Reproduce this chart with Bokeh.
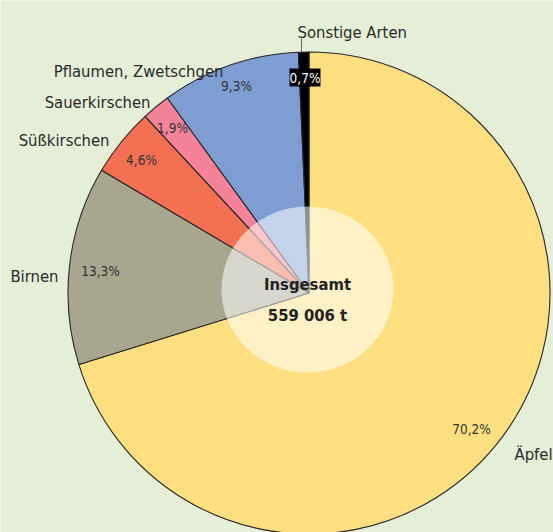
import numpy as np
from bokeh.plotting import figure
from bokeh.models import Range1d, ColumnDataSource
from bokeh.core.properties import value
from bokeh.embed import file_html
from bokeh.resources import INLINE

# ---- data ----
categories = ["Äpfel", "Birnen", "Süßkirschen", "Sauerkirschen", "Pflaumen, Zwetschgen", "Sonstige Arten"]
shares = [70.2, 13.3, 4.6, 1.9, 9.3, 0.7]
pct_labels = ["70,2%", "13,3%", "4,6%", "1,9%", "9,3%", "0,7%"]
total_lines = ["Insgesamt", "559 006 t"]

# ---- styles / layout ----
colors = ["#FFDF80", "#A9A690", "#F37053", "#F48399", "#7E9DD2", "#000000"]
pct_colors = ["#333333", "#333333", "#333333", "#333333", "#333333", "#FFFFFF"]
# percent label centres (screen px)
pct_pos_x = [471, 100, 141, 172, 236, 304.5]
pct_pos_y = [428, 270, 159, 127, 85, 77]
BG = "#E5EFD7"
FONT = "DejaVu Sans Condensed"
W, H = 553, 532
CX, CY, R = 308.5, 292.5, 241  # screen coords of pie

def Y(s):
    return H - s

# name label anchors (screen x, baseline y, align)
name_pos = {
    "Äpfel": (514, 454, "left"),
    "Birnen": (58, 276, "right"),
    "Süßkirschen": (109, 140, "right"),
    "Sauerkirschen": (150, 102, "right"),
    "Pflaumen, Zwetschgen": (223, 71, "right"),
    "Sonstige Arten": (297, 32, "left"),
}

fr = np.array(shares) / sum(shares)
cum_end = np.cumsum(fr)
cum_start = cum_end - fr
start = np.pi / 2 - cum_start * 2 * np.pi
end = np.pi / 2 - cum_end * 2 * np.pi

p = figure(width=W, height=H, x_range=Range1d(0, W), y_range=Range1d(0, H),
           output_backend="svg", toolbar_location=None, min_border=0,
           x_axis_type=None, y_axis_type=None)
p.grid.visible = False
p.outline_line_color = None
p.background_fill_color = BG
p.border_fill_color = BG

src = ColumnDataSource(dict(cat=categories, start=start, end=end, color=colors))
p.wedge(x=CX, y=Y(CY), radius=R, start_angle="start", end_angle="end", direction="clock",
        fill_color="color", line_color="#262626", line_width=1.1, source=src)

# center translucent disc
p.ellipse(x=307, y=Y(289), width=172, height=166, fill_color="white", fill_alpha=0.55,
          line_color=None)

# percentage labels
px = np.array(pct_pos_x)
py = Y(np.array(pct_pos_y))
psrc = ColumnDataSource(dict(x=px, y=py, t=pct_labels, c=pct_colors))
# black box behind the small slice label
p.rect(x=px[-1:], y=py[-1:], width=31, height=18, fill_color="black", line_color=None)
p.text(x="x", y="y", text="t", text_color="c", source=psrc, text_font=value(FONT),
       text_font_size="13.5px", text_align="center", text_baseline="middle")

# name labels
for cat in categories:
    x, yb, al = name_pos[cat]
    p.text(x=[x], y=[Y(yb)], text=[cat], text_font=value(FONT), text_font_size="16.5px",
           text_color="#2a2a2a", text_align=al, text_baseline="alphabetic")

# leader line for "Sonstige Arten"
p.segment(x0=[301], y0=[Y(36)], x1=[301], y1=[Y(52)], line_color="#666666", line_width=1)

# center total
p.text(x=[307, 307], y=[Y(284), Y(315)], text=total_lines, text_font=value(FONT),
       text_font_size="16.5px", text_font_style="bold", text_color="#222222",
       text_align="center", text_baseline="alphabetic")

open("out.html", "w").write(file_html(p, INLINE))
